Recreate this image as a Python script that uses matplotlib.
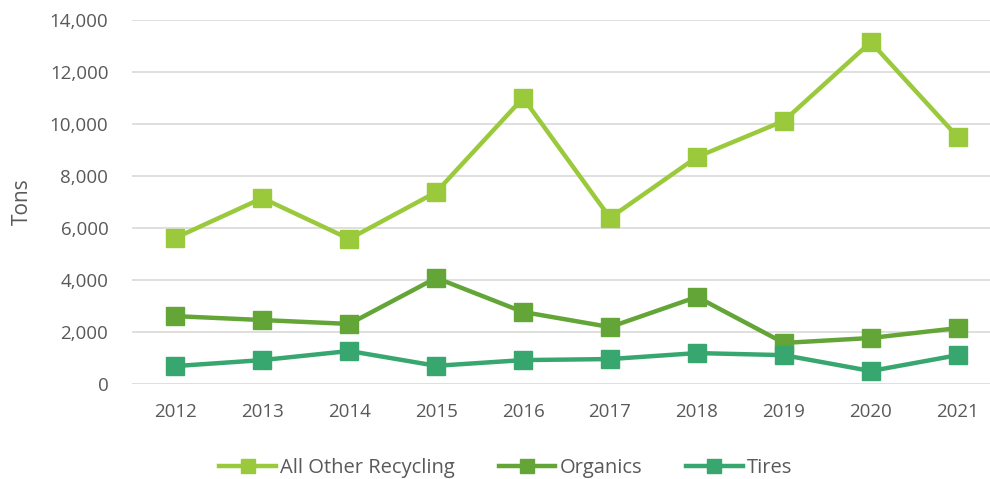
import matplotlib
matplotlib.use('Agg')
import matplotlib.pyplot as plt
from matplotlib.ticker import FuncFormatter

plt.rcParams['font.family'] = ['Open Sans', 'DejaVu Sans']

years = ['2012', '2013', '2014', '2015', '2016', '2017', '2018', '2019', '2020', '2021']
other_recycling = [5620, 7150, 5580, 7380, 11000, 6390, 8730, 10120, 13150, 9500]
organics = [2610, 2460, 2310, 4080, 2770, 2190, 3350, 1580, 1770, 2150]
tires = [690, 920, 1270, 700, 920, 960, 1190, 1110, 500, 1110]

fig = plt.figure(figsize=(9.9, 4.79), dpi=100)
ax = fig.add_axes([0.1333, 0.1983, 0.878, 0.76])

x = range(len(years))
ax.plot(x, other_recycling, color='#9ACA3C', lw=3.2, marker='s', ms=13,
        label='All Other Recycling')
ax.plot(x, organics, color='#63A537', lw=3.2, marker='s', ms=13, label='Organics')
ax.plot(x, tires, color='#37A76F', lw=3.2, marker='s', ms=13, label='Tires')

ax.set_xlim(-0.5, 9.5)
ax.set_ylim(0, 14000)
ax.set_yticks(range(0, 14001, 2000))
ax.yaxis.set_major_formatter(FuncFormatter(lambda v, p: f'{int(v):,}'))
ax.set_xticks(list(x))
ax.set_xticklabels(years)
ax.grid(axis='y', color='#D9D9D9', lw=1.2)
ax.set_axisbelow(True)
for s in ax.spines.values():
    s.set_visible(False)
ax.tick_params(length=0, labelsize=13.5, colors='#595959')
ax.tick_params(axis='x', pad=14)
ax.tick_params(axis='y', pad=17)
ax.set_ylabel('Tons', fontsize=15, color='#595959', labelpad=12)

leg = ax.legend(loc='center', bbox_to_anchor=(0.43, -0.23), ncol=3,
                frameon=False, fontsize=14.5, handlelength=2.8, columnspacing=2.2,
                handletextpad=0.2, markerscale=0.8)
for t in leg.get_texts():
    t.set_color('#595959')

fig.savefig('out.png', dpi=100)
